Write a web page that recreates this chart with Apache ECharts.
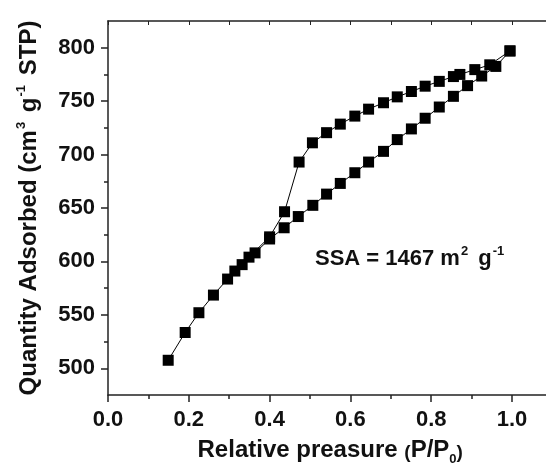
<!DOCTYPE html>
<html>
<head>
<meta charset="utf-8">
<script src="https://cdn.jsdelivr.net/npm/echarts@6/dist/echarts.min.js"></script>
<style>
  html, body { margin: 0; padding: 0; background: #fff; }
  #chart { width: 546px; height: 466px; }
</style>
</head>
<body>
<div id="chart"></div>
<script>
// adsorption branch (low P -> high P)
const adsP = [0.149, 0.191, 0.225, 0.261, 0.296, 0.332, 0.364, 0.400, 0.436, 0.471, 0.507, 0.541, 0.575, 0.611, 0.645, 0.682, 0.716, 0.751, 0.785, 0.820, 0.855, 0.890, 0.925, 0.960, 0.995];
const adsQ = [507.5, 533.5, 552, 568.5, 583.5, 597, 608, 621, 631.5, 642, 652.5, 663, 673, 683, 693, 703, 714, 724, 734, 744.5, 754.5, 764.5, 773.5, 782.5, 797];

// desorption branch (high P -> low P)
const desP = [0.995, 0.945, 0.908, 0.871, 0.855, 0.820, 0.785, 0.751, 0.716, 0.682, 0.645, 0.611, 0.575, 0.541, 0.506, 0.473, 0.437, 0.400, 0.349, 0.314];
const desQ = [797, 784, 779.5, 775, 773, 768.5, 764, 759, 754, 748.5, 742.5, 736, 728.5, 720.5, 711, 693, 646.5, 623, 604, 591];

const xMajorTicks = [0, 0.2, 0.4, 0.6, 0.8, 1.0];
const xMinorTicks = [0.1, 0.3, 0.5, 0.7, 0.9];
const yMajorTicks = [500, 550, 600, 650, 700, 750, 800];
const yMinorTicks = [525, 575, 625, 675, 725, 775];

const FONT = "'Liberation Sans', Arial, sans-serif";
const AXIS_COLOR = "#222";

const chart = echarts.init(document.getElementById("chart"), null, { renderer: "canvas" });

function zip(xs, ys) {
  return xs.map((x, i) => [x, ys[i]]);
}

const seriesStyle = {
  type: "line",
  symbol: "rect",
  symbolSize: 11,
  lineStyle: { color: "#000", width: 1 },
  itemStyle: { color: "#000" },
  animation: false,
  xAxisIndex: 0,
  yAxisIndex: 0,
};

chart.setOption({
  animation: false,
  grid: {
    left: 108,
    top: 21,
    width: 444.4,
    height: 374,
    containLabel: false,
    outerBoundsMode: "none",
  },
  xAxis: [
    {
      type: "value",
      position: "bottom",
      min: 0,
      max: 1.1,
      splitLine: { show: false },
      axisLine: { show: true, lineStyle: { color: AXIS_COLOR, width: 1.5 } },
      axisTick: { show: true, inside: false, length: 7, customValues: xMajorTicks, lineStyle: { color: AXIS_COLOR, width: 1.5 } },
      axisLabel: {
        customValues: xMajorTicks,
        formatter: (v) => v.toFixed(1),
        color: "#111",
        fontFamily: FONT,
        fontWeight: "bold",
        fontSize: 22,
        margin: 14,
      },
      name: "Relative preasure {s|(}P/P{sub|0}{s|)}",
      nameLocation: "middle",
      nameGap: 40,
      nameTextStyle: {
        color: "#111",
        fontFamily: FONT,
        fontWeight: "bold",
        fontSize: 24,
        rich: {
          s: { fontFamily: FONT, fontWeight: "bold", fontSize: 19, color: "#111", padding: [4, 0, 0, 0] },
          sub: { fontFamily: FONT, fontWeight: "bold", fontSize: 13, color: "#111", padding: [18, 0, 0, 0] },
        },
      },
    },
    {
      type: "value",
      position: "bottom",
      min: 0,
      max: 1.1,
      splitLine: { show: false },
      axisLine: { show: false },
      axisTick: { show: true, inside: false, length: 4, customValues: xMinorTicks, lineStyle: { color: AXIS_COLOR, width: 1.5 } },
      axisLabel: { show: false },
    },
    {
      type: "value",
      position: "top",
      min: 0,
      max: 1.1,
      splitLine: { show: false },
      axisLine: { show: true, lineStyle: { color: AXIS_COLOR, width: 1.5 } },
      axisTick: { show: true, inside: true, length: 4, customValues: xMajorTicks.concat(xMinorTicks), lineStyle: { color: AXIS_COLOR, width: 1 } },
      axisLabel: { show: false },
    },
  ],
  yAxis: [
    {
      type: "value",
      position: "left",
      min: 475,
      max: 825,
      splitLine: { show: false },
      axisLine: { show: true, lineStyle: { color: AXIS_COLOR, width: 1.5 } },
      axisTick: { show: true, inside: false, length: 7, customValues: yMajorTicks, lineStyle: { color: AXIS_COLOR, width: 1.5 } },
      axisLabel: {
        customValues: yMajorTicks,
        color: "#111",
        fontFamily: FONT,
        fontWeight: "bold",
        fontSize: 22,
        margin: 13,
      },
      name: "Quantity Adsorbed (cm{sup|3} g{sup|-1} STP)",
      nameLocation: "middle",
      nameGap: 64,
      nameTextStyle: {
        color: "#111",
        fontFamily: FONT,
        fontWeight: "bold",
        fontSize: 24,
        rich: {
          sup: { fontFamily: FONT, fontWeight: "bold", fontSize: 13, color: "#111", padding: [0, 3, 16, 1] },
        },
      },
    },
    {
      type: "value",
      position: "left",
      min: 475,
      max: 825,
      splitLine: { show: false },
      axisLine: { show: false },
      axisTick: { show: true, inside: false, length: 4, customValues: yMinorTicks, lineStyle: { color: AXIS_COLOR, width: 1.5 } },
      axisLabel: { show: false },
    },
  ],
  graphic: [
    {
      type: "text",
      left: 315,
      top: 245,
      style: {
        text: "SSA = 1467 m{sup|2} g{sup|-1}",
        fill: "#111",
        font: "bold 22px " + FONT,
        rich: {
          sup: { fontFamily: FONT, fontWeight: "bold", fontSize: 13, fill: "#111", padding: [0, 4, 14, 1] },
        },
      },
    },
  ],
  series: [
    Object.assign({ name: "Adsorption", data: zip(adsP, adsQ) }, seriesStyle),
    Object.assign({ name: "Desorption", data: zip(desP, desQ) }, seriesStyle),
  ],
});
</script>
</body>
</html>
